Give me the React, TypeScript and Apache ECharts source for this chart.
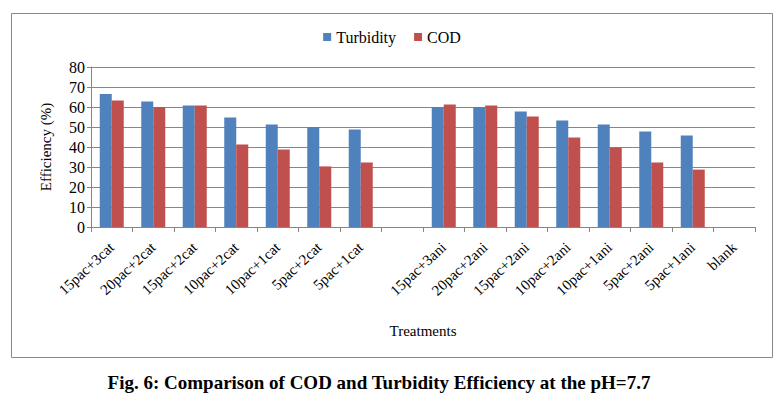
import React, { useEffect, useRef } from "react";
import * as echarts from "echarts";

const categories = [
  "15pac+3cat", "20pac+2cat", "15pac+2cat", "10pac+2cat", "10pac+1cat", "5pac+2cat", "5pac+1cat",
  "",
  "15pac+3ani", "20pac+2ani", "15pac+2ani", "10pac+2ani", "10pac+1ani", "5pac+2ani", "5pac+1ani",
  "blank",
];
const turbidity = [66.5, 62.7, 60.7, 54.7, 51.2, 50, 48.7, null, 60, 60, 57.7, 53.2, 51.2, 47.7, 45.7, null];
const cod = [63.2, 60, 60.7, 41.2, 38.7, 30.3, 32.2, null, 61.2, 60.7, 55.2, 44.7, 39.8, 32.2, 28.7, null];
const yTicks = { min: 0, max: 80, interval: 10 };
const caption = "Fig. 6: Comparison of COD and Turbidity Efficiency at the pH=7.7";

const FONT = "Liberation Serif";

export default function App() {
  const ref = useRef<HTMLDivElement>(null);
  useEffect(() => {
    if (!ref.current) return;
    const chart = echarts.init(ref.current, null, { renderer: "svg" });
    chart.setOption({
      animation: false,
      backgroundColor: "#fff",
      textStyle: { fontFamily: FONT },
      legend: {
        top: 24,
        left: "center",
        itemWidth: 8,
        itemHeight: 8,
        itemGap: 18,
        icon: "rect",
        textStyle: { fontFamily: FONT, fontSize: 16, color: "#000" },
        data: ["Turbidity", "COD"],
      },
      grid: { left: 91, right: 29, top: 67, bottom: 171, containLabel: false },
      xAxis: {
        type: "category",
        data: categories,
        name: "Treatments",
        nameLocation: "middle",
        nameGap: 96,
        nameTextStyle: { fontFamily: FONT, fontSize: 15, color: "#000" },
        axisLine: { show: true, lineStyle: { color: "#868686" } },
        axisTick: { show: true, alignWithLabel: false, length: 5, lineStyle: { color: "#868686" } },
        axisLabel: { rotate: 43, fontFamily: FONT, fontSize: 15, color: "#000", interval: 0, margin: 18 },
      },
      yAxis: {
        type: "value",
        min: yTicks.min,
        max: yTicks.max,
        interval: yTicks.interval,
        name: "Efficiency (%)",
        nameLocation: "middle",
        nameGap: 38,
        nameTextStyle: { fontFamily: FONT, fontSize: 15, color: "#000" },
        axisLine: { show: true, lineStyle: { color: "#868686" } },
        axisTick: { show: true, length: 4, lineStyle: { color: "#868686" } },
        axisLabel: { fontFamily: FONT, fontSize: 16, color: "#000", margin: 6 },
        splitLine: { show: true, lineStyle: { color: "#868686", width: 1 } },
      },
      series: [
        {
          name: "Turbidity",
          type: "bar",
          data: turbidity,
          barWidth: 12,
          barGap: "0%",
          itemStyle: { color: "#4F81BD" },
        },
        {
          name: "COD",
          type: "bar",
          data: cod,
          barWidth: 12,
          barGap: "0%",
          itemStyle: { color: "#C0504D" },
        },
      ],
      graphic: [
        {
          type: "rect",
          shape: { x: 11.5, y: 13.5, width: 761, height: 344 },
          style: { fill: "none", stroke: "#888", lineWidth: 1 },
          silent: true,
        },
        {
          type: "text",
          x: 379,
          y: 382,
          style: {
            text: caption,
            fontFamily: FONT,
            fontWeight: "bold",
            fontSize: 19,
            fill: "#000",
            align: "center",
            verticalAlign: "middle",
          },
        },
      ],
    });
    return () => chart.dispose();
  }, []);
  return (
    <div
      ref={ref}
      style={{ position: "absolute", left: 0, top: 0, width: 784, height: 398 }}
    />
  );
}
